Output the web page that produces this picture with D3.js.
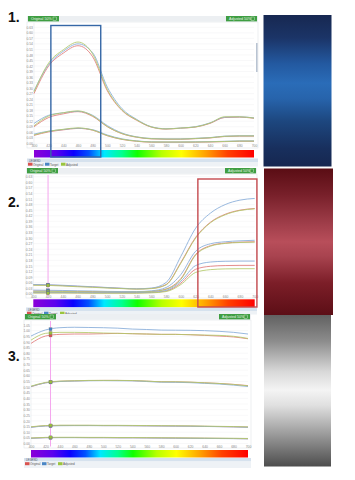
<!DOCTYPE html>
<html><head><meta charset="utf-8">
<script src="https://cdn.jsdelivr.net/npm/d3@7"></script>
<style>body{margin:0;background:#fff}svg{display:block}</style>
</head><body>
<svg id="c" width="355" height="480"></svg>
<script>
// ---------- DATA ----------
const wavelengths = [400,420,440,460,480,500,520,540,560,580,600,620,640,660,680,700];
const xTickLabels = ["400","420","440","460","480","500","520","540","560","580","600","620","640","660","680","700"];
const seriesNames = ["Original","Target","Adjusted"];
const panelLabels = ["1.","2.","3."];
const headerLeftText = "Original 50%";
const headerRightText = "Adjusted 50%";
const legendTitle = "LEGEND";

const p1YTicks = ["0.00","0.03","0.06","0.09","0.12","0.15","0.18","0.21","0.24","0.27","0.30","0.33","0.36","0.39","0.42","0.45","0.48","0.51","0.54","0.57","0.60","0.63"];
const p2YTicks = p1YTicks;
const p3YTicks = ["0.00","0.05","0.10","0.15","0.20","0.25","0.30","0.35","0.40","0.45","0.50","0.55","0.60","0.65","0.70","0.75","0.80","0.85","0.90","0.95","1.00","1.05"];

// Panel 1 (blue sample): three strengths, each Original / Target / Adjusted
const p1HighOriginal = [0.270,0.420,0.490,0.530,0.470,0.285,0.178,0.125,0.088,0.077,0.082,0.088,0.108,0.140,0.142,0.136];
const p1HighTarget   = [0.285,0.428,0.500,0.540,0.492,0.305,0.188,0.130,0.090,0.079,0.083,0.090,0.111,0.142,0.144,0.138];
const p1HighAdjusted = [0.279,0.436,0.508,0.550,0.485,0.292,0.181,0.127,0.089,0.078,0.083,0.089,0.110,0.144,0.144,0.137];
const p1MidOriginal  = [0.090,0.140,0.160,0.172,0.146,0.090,0.052,0.033,0.024,0.022,0.022,0.025,0.029,0.037,0.039,0.039];
const p1MidTarget    = [0.108,0.152,0.166,0.174,0.152,0.096,0.056,0.035,0.026,0.024,0.024,0.027,0.031,0.039,0.041,0.041];
const p1MidAdjusted  = [0.095,0.148,0.166,0.176,0.149,0.091,0.053,0.034,0.025,0.023,0.023,0.026,0.030,0.038,0.040,0.040];
const p1LowOriginal  = [0.043,0.062,0.073,0.081,0.071,0.041,0.021,0.011,0.006,0.006,0.006,0.006,0.007,0.009,0.011,0.011];
const p1LowTarget    = [0.050,0.066,0.075,0.082,0.074,0.045,0.024,0.013,0.008,0.007,0.007,0.008,0.009,0.011,0.013,0.013];
const p1LowAdjusted  = [0.045,0.065,0.076,0.084,0.072,0.042,0.022,0.012,0.007,0.007,0.007,0.007,0.008,0.010,0.012,0.012];
const p1Highlight = [423, 491];

// Panel 2 (red sample)
const p2HighOriginal = [0.048,0.047,0.044,0.040,0.037,0.033,0.029,0.026,0.029,0.050,0.169,0.304,0.385,0.428,0.450,0.459];
const p2HighTarget   = [0.050,0.049,0.046,0.042,0.038,0.034,0.030,0.027,0.031,0.061,0.202,0.353,0.434,0.480,0.504,0.513];
const p2HighAdjusted = [0.046,0.045,0.042,0.038,0.035,0.031,0.028,0.025,0.028,0.048,0.165,0.300,0.382,0.425,0.448,0.457];
const p2MidOriginal  = [0.015,0.015,0.014,0.013,0.012,0.011,0.010,0.010,0.013,0.026,0.082,0.212,0.259,0.273,0.278,0.280];
const p2MidTarget    = [0.020,0.019,0.018,0.016,0.015,0.013,0.012,0.012,0.016,0.034,0.104,0.229,0.269,0.280,0.285,0.288];
const p2MidAdjusted  = [0.013,0.013,0.012,0.011,0.010,0.009,0.008,0.009,0.012,0.024,0.078,0.208,0.256,0.271,0.276,0.278];
const p2LowOriginal  = [0.006,0.006,0.006,0.005,0.005,0.005,0.005,0.005,0.007,0.015,0.058,0.132,0.148,0.152,0.153,0.153];
const p2LowTarget    = [0.008,0.008,0.007,0.007,0.006,0.006,0.006,0.006,0.008,0.018,0.068,0.152,0.171,0.175,0.176,0.176];
const p2LowAdjusted  = [0.004,0.004,0.004,0.004,0.003,0.003,0.003,0.003,0.005,0.012,0.050,0.115,0.130,0.134,0.135,0.135];
const p2Highlight = [623, 703];
const p2MarkerWavelength = 420;

// Panel 3 (silver / white sample)
const p3HighOriginal = [0.887,0.952,0.967,0.970,0.970,0.973,0.976,0.973,0.970,0.967,0.967,0.964,0.958,0.952,0.944,0.928];
const p3HighTarget   = [0.952,1.006,1.026,1.030,1.028,1.026,1.022,1.014,1.010,1.005,1.004,1.003,1.000,0.994,0.985,0.970];
const p3HighAdjusted = [0.916,0.976,0.985,0.985,0.983,0.979,0.976,0.973,0.970,0.967,0.967,0.964,0.961,0.958,0.950,0.931];
const p3MidOriginal  = [0.503,0.538,0.551,0.555,0.558,0.559,0.559,0.557,0.552,0.547,0.546,0.543,0.538,0.532,0.524,0.513];
const p3MidTarget    = [0.505,0.537,0.549,0.553,0.556,0.557,0.556,0.555,0.549,0.543,0.542,0.539,0.533,0.527,0.517,0.505];
const p3MidAdjusted  = [0.508,0.541,0.553,0.556,0.559,0.559,0.559,0.558,0.553,0.547,0.547,0.544,0.538,0.532,0.523,0.511];
const p3LowOriginal  = [0.145,0.157,0.160,0.160,0.160,0.159,0.159,0.158,0.157,0.156,0.155,0.154,0.152,0.150,0.148,0.145];
const p3LowTarget    = [0.143,0.155,0.158,0.159,0.159,0.158,0.158,0.157,0.156,0.155,0.154,0.153,0.151,0.149,0.147,0.143];
const p3LowAdjusted  = [0.148,0.159,0.162,0.162,0.162,0.161,0.161,0.160,0.159,0.158,0.157,0.156,0.154,0.152,0.150,0.147];
const p3DarkOriginal = [0.047,0.052,0.053,0.053,0.052,0.052,0.051,0.051,0.050,0.049,0.048,0.047,0.046,0.045,0.044,0.042];
const p3DarkTarget   = [0.046,0.051,0.052,0.052,0.051,0.051,0.050,0.050,0.049,0.048,0.047,0.046,0.045,0.044,0.043,0.041];
const p3DarkAdjusted = [0.049,0.054,0.055,0.055,0.054,0.054,0.053,0.053,0.052,0.051,0.050,0.049,0.048,0.047,0.046,0.044];
const p3MarkerWavelength = 427;

// ---------- STYLE / LAYOUT ----------
const lineColors = ["#e07a7a","#86acd8","#b3c96a"];
const markerColors = ["#d9534f","#3f7fc4","#9bbf3a"];
const legendColors = ["#d9534f","#4a86c5","#9bc53d"];

const svg = d3.select("#c");
const defs = svg.append("defs");

// spectrum gradient
const spec = defs.append("linearGradient").attr("id","spec").attr("x1","0").attr("x2","1").attr("y1","0").attr("y2","0");
[[0,"#8a00d8"],[0.1,"#5a00ee"],[0.18,"#0a00ff"],[0.25,"#0050ff"],[0.32,"#00e8ff"],[0.4,"#00ff90"],[0.47,"#10ff00"],[0.58,"#b8ff00"],[0.67,"#ffff00"],[0.78,"#ffa000"],[0.88,"#ff4000"],[1,"#ff0000"]]
  .forEach(([o,c])=>spec.append("stop").attr("offset",o).attr("stop-color",c));

function vgrad(id, stops){
  const g = defs.append("linearGradient").attr("id",id).attr("x1","0").attr("x2","0").attr("y1","0").attr("y2","1");
  stops.forEach(([o,c])=>g.append("stop").attr("offset",o).attr("stop-color",c));
}
vgrad("sw1",[[0,"#172851"],[0.15,"#1b3467"],[0.32,"#2359a0"],[0.45,"#2a6cb8"],[0.55,"#2764ac"],[0.7,"#1d477f"],[0.88,"#182f5d"],[1,"#162750"]]);
vgrad("sw2",[[0,"#5a0d14"],[0.18,"#78202a"],[0.38,"#a03e4a"],[0.5,"#b84e5a"],[0.6,"#a8434f"],[0.78,"#7c1e28"],[1,"#5c0e16"]]);
vgrad("sw3",[[0,"#5f5f5f"],[0.18,"#8c8c8c"],[0.38,"#d8d8d8"],[0.5,"#f4f4f4"],[0.6,"#e0e0e0"],[0.8,"#979797"],[1,"#4d4d4d"]]);

function valueAt(arr, w){
  const i = d3.bisectRight(wavelengths, w) - 1;
  if (i >= wavelengths.length-1) return arr[arr.length-1];
  const t = (w - wavelengths[i])/(wavelengths[i+1]-wavelengths[i]);
  return arr[i] + t*(arr[i+1]-arr[i]);
}

function drawPanel(L, yTicks, yMax, sets, opts){
  const g = svg.append("g");
  // header strip
  g.append("rect").attr("x",L.frameX).attr("y",L.headerY).attr("width",L.frameW).attr("height",L.headerH).attr("fill","#eceff2");
  [[L.frameX+1, headerLeftText],[L.frameX+L.frameW-32, headerRightText]].forEach(([bx,t])=>{
    g.append("rect").attr("x",bx).attr("y",L.headerY).attr("width",31).attr("height",L.headerH).attr("fill","#3f9e42");
    g.append("text").attr("x",bx+3).attr("y",L.headerY+L.headerH-1.5).attr("font-size",3.6).attr("fill","#e8f5e8")
      .attr("font-family","Liberation Sans, Arial").text(t);
    g.append("rect").attr("x",bx+25).attr("y",L.headerY+1).attr("width",3.5).attr("height",L.headerH-2).attr("fill","none").attr("stroke","#e8f5e8").attr("stroke-width",0.4);
  });
  // plot frame
  g.append("rect").attr("x",L.frameX).attr("y",L.plotY).attr("width",L.frameW).attr("height",L.plotH)
    .attr("fill","#fff").attr("stroke","#dfe3e8").attr("stroke-width",0.6);

  const x = d3.scaleLinear().domain([400,700]).range([L.plotL, L.plotR]);
  const y = d3.scaleLinear().domain([0,yMax]).range([L.yBot, L.yTop]);

  // grid
  const tickVals = yTicks.map(Number);
  g.append("g").selectAll("line").data(tickVals).join("line")
    .attr("x1",L.plotL).attr("x2",L.plotR).attr("y1",d=>y(d)).attr("y2",d=>y(d))
    .attr("stroke","#f0f1f3").attr("stroke-width",0.5);
  g.append("line").attr("x1",L.plotL).attr("x2",L.plotL).attr("y1",L.plotY+1).attr("y2",L.yBot+2).attr("stroke","#e4e6ea").attr("stroke-width",0.6);

  // y axis labels
  const yAx = d3.axisLeft(y).tickValues(tickVals).tickFormat((d,i)=>yTicks[i]).tickSize(0).tickPadding(1);
  const ya = g.append("g").attr("transform",`translate(${L.plotL},0)`).call(yAx);
  ya.select(".domain").remove();
  ya.selectAll("text").attr("font-size",3.4).attr("fill","#8a8a8a").attr("font-family","Liberation Sans, Arial");

  // x axis labels
  const xAx = d3.axisBottom(x).tickValues(wavelengths).tickFormat((d,i)=>xTickLabels[i]).tickSize(0).tickPadding(0);
  const xa = g.append("g").attr("transform",`translate(0,${L.xLabelY-2})`).call(xAx);
  xa.select(".domain").remove();
  xa.selectAll("text").attr("font-size",3.4).attr("fill","#8a8a8a").attr("font-family","Liberation Sans, Arial");

  // marker line
  if (opts.marker){
    g.append("line").attr("x1",x(opts.marker)).attr("x2",x(opts.marker)).attr("y1",L.plotY+1).attr("y2",L.yBot+3)
      .attr("stroke","#f4a6ee").attr("stroke-width",1);
  }

  const line = d3.line().x((d,i)=>x(wavelengths[i])).y(d=>y(d)).curve(d3.curveMonotoneX);
  sets.forEach(set=>{
    set.forEach((arr,si)=>{
      g.append("path").attr("d",line(arr)).attr("fill","none").attr("stroke",lineColors[si]).attr("stroke-width",0.9).attr("opacity",0.95);
    });
  });
  if (opts.marker){
    sets.forEach(set=>{
      set.forEach((arr,si)=>{
        const v = valueAt(arr, opts.marker);
        g.append("rect").attr("x",x(opts.marker)-1.5).attr("y",y(v)-1.5).attr("width",3).attr("height",3)
          .attr("fill",markerColors[si]).attr("stroke","#777").attr("stroke-width",0.3);
      });
    });
  }

  // spectrum
  g.append("rect").attr("x",L.plotL).attr("y",L.specY).attr("width",L.plotR-L.plotL).attr("height",L.specH).attr("fill","url(#spec)");

  // legend
  g.append("rect").attr("x",L.frameX).attr("y",L.legY).attr("width",L.frameW).attr("height",3.5).attr("fill","#d6e2ee");
  g.append("text").attr("x",L.frameX+2).attr("y",L.legY+3).attr("font-size",2.8).attr("fill","#556").attr("font-family","Liberation Sans, Arial").text(legendTitle);
  g.append("rect").attr("x",L.frameX).attr("y",L.legY+3.5).attr("width",L.frameW).attr("height",L.legH-3.5).attr("fill","#eef2f6");
  const itemX = [0, 17, 33];
  seriesNames.forEach((n,i)=>{
    const ix = L.frameX+1+itemX[i];
    g.append("rect").attr("x",ix).attr("y",L.legY+4.2).attr("width",4.5).attr("height",3).attr("fill",legendColors[i]);
    g.append("text").attr("x",ix+5).attr("y",L.legY+7).attr("font-size",3).attr("fill","#555").attr("font-family","Liberation Sans, Arial").text(n);
  });

  // highlight box
  if (opts.highlight){
    g.append("rect").attr("x",x(opts.highlight[0])).attr("y",opts.hlY0)
      .attr("width",x(opts.highlight[1])-x(opts.highlight[0])).attr("height",opts.hlY1-opts.hlY0)
      .attr("fill","none").attr("stroke",opts.hlColor).attr("stroke-width",1.4);
  }
  if (opts.scroll){
    g.append("rect").attr("x",L.frameX+L.frameW-2).attr("y",opts.scroll[0]).attr("width",1.6).attr("height",opts.scroll[1]).attr("fill","#b9c4d2");
  }
  return g;
}

// swatches (3 before 2 so 2 overlaps)
svg.append("rect").attr("x",264).attr("y",313.5).attr("width",67).attr("height",153).attr("fill","url(#sw3)");
svg.append("rect").attr("x",263.5).attr("y",15).attr("width",68).attr("height",151.5).attr("fill","url(#sw1)");
svg.append("rect").attr("x",264).attr("y",168.5).attr("width",69).attr("height",146.5).attr("fill","url(#sw2)");

// panels
drawPanel({frameX:27,frameW:231,headerY:16,headerH:5.5,plotY:22,plotH:126,plotL:34,plotR:254,yTop:27.3,yBot:143.3,xLabelY:146.8,specY:150,specH:7.5,legY:158.5,legH:8},
  p1YTicks, 0.63,
  [[p1HighOriginal,p1HighTarget,p1HighAdjusted],[p1MidOriginal,p1MidTarget,p1MidAdjusted],[p1LowOriginal,p1LowTarget,p1LowAdjusted]],
  {highlight:p1Highlight, hlY0:25.5, hlY1:157, hlColor:"#3567a6", scroll:[43,29]});

drawPanel({frameX:26,frameW:231,headerY:168,headerH:5.5,plotY:174,plotH:124,plotL:33.3,plotR:254.7,yTop:176.7,yBot:293.8,xLabelY:297.8,specY:299.3,specH:8,legY:307.5,legH:7},
  p2YTicks, 0.63,
  [[p2HighOriginal,p2HighTarget,p2HighAdjusted],[p2MidOriginal,p2MidTarget,p2MidAdjusted],[p2LowOriginal,p2LowTarget,p2LowAdjusted]],
  {highlight:p2Highlight, hlY0:179, hlY1:307, hlColor:"#c54a4f", marker:p2MarkerWavelength});

drawPanel({frameX:24,frameW:227,headerY:314,headerH:5.5,plotY:320,plotH:128,plotL:31,plotR:248,yTop:325,yBot:443.5,xLabelY:447.5,specY:450,specH:7.5,legY:458,legH:10},
  p3YTicks, 1.05,
  [[p3HighOriginal,p3HighTarget,p3HighAdjusted],[p3MidOriginal,p3MidTarget,p3MidAdjusted],[p3LowOriginal,p3LowTarget,p3LowAdjusted],[p3DarkOriginal,p3DarkTarget,p3DarkAdjusted]],
  {marker:p3MarkerWavelength});

// panel numbers
[[8,22],[8,207],[8,361]].forEach(([px,py],i)=>{
  svg.append("text").attr("x",px).attr("y",py).attr("font-size",14).attr("font-weight","bold").attr("fill","#111")
    .attr("font-family","Liberation Sans, Arial").text(panelLabels[i]);
});
</script>
</body></html>
